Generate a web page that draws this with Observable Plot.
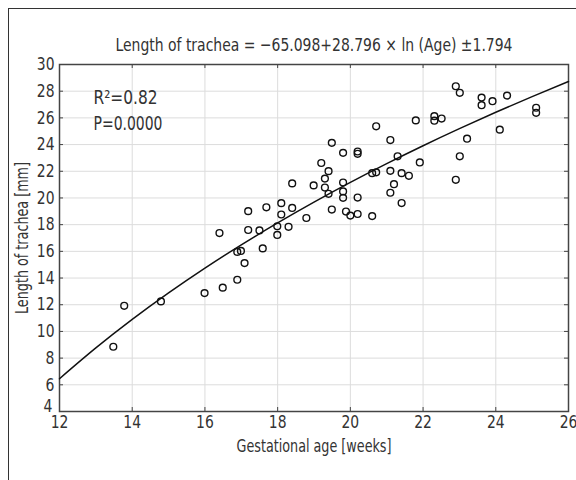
<!DOCTYPE html>
<html><head><meta charset="utf-8">
<script src="https://cdn.jsdelivr.net/npm/d3@7"></script>
<script src="https://cdn.jsdelivr.net/npm/@observablehq/plot@0.6"></script>
<style>
body{margin:0;background:#fff;}
#wrap{position:relative;width:576px;height:480px;overflow:hidden;}
#border{position:absolute;left:8px;top:8px;width:700px;height:600px;border:1px solid #333;pointer-events:none;}
</style></head><body><div id="wrap"><div id="border"></div></div>
<script>
const ages = [13.48,13.78,14.79,15.99,16.49,16.89,16.40,16.89,16.99,17.09,17.59,17.19,17.50,17.99,18.30,17.99,17.19,17.69,18.10,18.10,18.40,18.40,18.79,18.99,19.20,19.30,19.30,19.40,19.40,19.49,19.49,19.80,19.80,19.80,19.80,19.88,20.00,20.20,20.20,20.20,20.20,20.60,20.60,20.71,20.71,21.10,21.10,21.10,21.20,21.30,21.41,21.41,21.61,21.80,21.91,22.31,22.31,22.51,22.90,23.01,22.90,23.01,23.21,23.61,23.61,23.91,24.31,24.11,25.11,25.11];
const lengths = [8.85,11.92,12.25,12.87,13.28,13.87,17.37,15.96,16.03,15.12,16.22,17.60,17.57,17.88,17.84,17.23,19.01,19.30,19.61,18.76,19.25,21.09,18.50,20.94,22.62,21.45,20.78,22.01,20.31,24.13,19.13,23.38,21.16,20.49,20.01,18.98,18.68,18.80,20.03,23.48,23.31,18.64,21.86,21.92,25.37,24.34,22.03,20.39,21.03,23.12,21.86,19.62,21.66,25.81,22.66,26.13,25.79,25.95,28.37,27.88,21.36,23.12,24.44,27.52,26.95,27.25,27.67,25.12,26.76,26.38];
const fitAge = [12,13,14,15,16,17,18,19,20,21,22,23,24,25,26];
const fitLength = [6.457,8.763,10.897,12.883,14.742,16.488,18.134,19.691,21.168,22.573,23.913,25.193,26.419,27.593,28.723];
const xTicks = [12,14,16,18,20,22,24,26];
const yTicks = [4,6,8,10,12,14,16,18,20,22,24,26,28,30];
const titleText = "Length of trachea = −65.098+28.796 × ln (Age) ±1.794";
const statLines = ["R²=0.82", "P=0.0000"];
const xLabel = "Gestational age [weeks]";
const yLabel = "Length of trachea [mm]";

const points = ages.map((a, i) => ({age: a, len: lengths[i]}));
const fit = fitAge.map((a, i) => ({age: a, len: fitLength[i]}));

const W = 576, H = 480, mT = 64, mB = 69, mL = 59, mR = 8;
const ph = H - mT - mB, pw = W - mL - mR;
const font = "'DejaVu Sans Condensed', 'DejaVu Sans', sans-serif";

const chart = Plot.plot({
  width: W, height: H,
  marginTop: mT, marginBottom: mB, marginLeft: mL, marginRight: mR,
  style: {fontFamily: font, fontSize: "17px", color: "#333", background: "transparent", overflow: "visible"},
  x: {domain: [12, 26]},
  y: {domain: [4, 30]},
  marks: [
    Plot.ruleX(xTicks, {x: d => d, stroke: "#dcdcdc", strokeWidth: 1}),
    Plot.ruleY(yTicks, {y: d => d, stroke: "#dcdcdc", strokeWidth: 1}),
    Plot.ruleX(xTicks, {x: d => d, insetTop: ph - 4, stroke: "#444"}),
    Plot.ruleX(xTicks, {x: d => d, insetBottom: ph - 4, stroke: "#444"}),
    Plot.ruleY(yTicks, {y: d => d, insetRight: pw - 4, stroke: "#444"}),
    Plot.ruleY(yTicks, {y: d => d, insetLeft: pw - 4, stroke: "#444"}),
    Plot.frame({stroke: "#444", strokeWidth: 1.5}),
    Plot.axisX(xTicks, {tickSize: 0, tickPadding: 4, label: null, fontSize: 18}),
    Plot.axisY(yTicks.slice(1), {tickSize: 0, tickPadding: 5, label: null, fontSize: 18}),
    Plot.text([yTicks[0]], {y: d => d, text: d => String(d), frameAnchor: "left", dx: -7, dy: -5, textAnchor: "end", fontSize: 18, fill: "#333"}),
    Plot.line(fit, {x: "age", y: "len", curve: "monotone-x", stroke: "#111", strokeWidth: 1.5}),
    Plot.dot(points, {x: "age", y: "len", r: 3.4, stroke: "#111", strokeWidth: 1.4, fill: "none"}),
    Plot.text([titleText], {frameAnchor: "top", dy: -26, textAnchor: "middle", fontSize: 18, fill: "#333"}),
    Plot.text([statLines[0]], {frameAnchor: "top-left", dx: 34, dy: 26, textAnchor: "start", lineAnchor: "top", fontSize: 19, fill: "#333"}),
    Plot.text([statLines[1]], {frameAnchor: "top-left", dx: 34, dy: 52, textAnchor: "start", lineAnchor: "top", fontSize: 19, fill: "#333"}),
    Plot.text([xLabel], {frameAnchor: "bottom", dy: 40, textAnchor: "middle", fontSize: 18, fill: "#333"}),
    Plot.text([yLabel], {frameAnchor: "left", dx: -37, rotate: -90, textAnchor: "middle", fontSize: 18, fill: "#333"})
  ]
});
document.getElementById("wrap").prepend(chart);

// condense text widths to match the narrow reference typeface
const targets = new Map([[titleText, 397], [xLabel, 155], [yLabel, 152], [statLines[0], 64], [statLines[1], 69]]);
chart.querySelectorAll("text").forEach(t => {
  const s = t.textContent;
  const len = t.getComputedTextLength();
  if (!len) return;
  const target = targets.has(s) ? targets.get(s) : len * 0.86;
  t.setAttribute("textLength", target.toFixed(1));
  t.setAttribute("lengthAdjust", "spacingAndGlyphs");
});
</script>
</body></html>
